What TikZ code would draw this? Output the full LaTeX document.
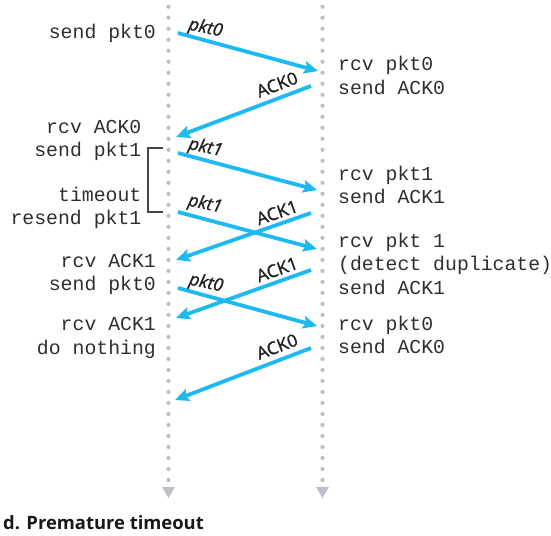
\documentclass[tikz,border=0pt]{standalone}
\usepackage{fontspec}
\newfontfamily\monof{Liberation Mono}
\newfontfamily\labf[FakeBold=1.2]{Open Sans}
\newfontfamily\capf{Open Sans}
\usetikzlibrary{arrows.meta}
\definecolor{pktblue}{RGB}{28,186,240}
\definecolor{dotgray}{RGB}{190,190,196}
\definecolor{brgray}{RGB}{70,70,70}
\definecolor{txtgray}{RGB}{50,45,45}
\tikzset{
  msg/.style={draw=pktblue, line width=3.8pt, -{Stealth[length=14pt,width=12.5pt,inset=2.5pt]}},
  lab/.style={font=\labf\fontsize{17.5}{20}\selectfont, inner sep=0pt, text=black!88},
  plab/.style={lab, font=\labf\itshape\fontsize{17.5}{20}\selectfont},
  evl/.style={font=\monof\fontsize{19.8}{23}\selectfont, inner sep=0pt, anchor=base east, text=txtgray},
  evr/.style={font=\monof\fontsize{19.8}{23}\selectfont, inner sep=0pt, anchor=base west, text=txtgray},
  lifedot/.style={fill=dotgray},
  bracketline/.style={draw=brgray, line width=1.1pt},
}
\begin{document}
\begin{tikzpicture}[x=1pt,y=-1pt]
\useasboundingbox (0,0) rectangle (551,535);
% lifelines
\foreach \k in {0,...,43} {
  \fill[lifedot] (168.5,6.7+11.007*\k) circle (2.1pt);
  \fill[lifedot] (322.5,6.7+11.007*\k) circle (2.1pt);
}
\fill[lifedot] (162,487) -- (175,487) -- (168.5,498) -- cycle;
\fill[lifedot] (316,487) -- (329,487) -- (322.5,498) -- cycle;
% endpoints
\coordinate (s1) at (178,33);  \coordinate (e1) at (318,71);
\coordinate (s2) at (311,86);  \coordinate (e2) at (176,137);
\coordinate (s3) at (178,153); \coordinate (e3) at (317,190);
\coordinate (s4) at (311,213); \coordinate (e4) at (176,260);
\coordinate (s5) at (178,212); \coordinate (e5) at (317,249);
\coordinate (s6) at (311,270); \coordinate (e6) at (176,318);
\coordinate (s7) at (178,288); \coordinate (e7) at (317,326);
\coordinate (s8) at (311,348); \coordinate (e8) at (175,400);
% messages
\draw[msg] (s1) -- (e1);
\draw[msg] (s2) -- (e2);
\draw[msg] (s3) -- (e3);
\draw[msg] (s4) -- (e4);
\draw[msg] (s5) -- (e5);
\draw[msg] (s6) -- (e6);
\draw[msg] (s7) -- (e7);
\draw[msg] (s8) -- (e8);
% message labels
\node[plab, rotate=-12] (l1) at (205.5,28.5) {pkt0};
\node[lab, rotate=20.7] (l2) at (277,84.5) {ACK0};
\node[plab, rotate=-12] (l3) at (205.5,148) {pkt1};
\node[lab, rotate=19.2] (l4) at (277,212.5) {ACK1};
\node[plab, rotate=-12] (l5) at (205,204.5) {pkt1};
\node[lab, rotate=19.6] (l6) at (277,269.5) {ACK1};
\node[plab, rotate=-12] (l7) at (206,283.5) {pkt0};
\node[lab, rotate=20.9] (l8) at (277,346.5) {ACK0};
% timeout bracket
\coordinate (bt) at (163,148); \coordinate (bb) at (163,212);
\draw[bracketline] (bt) -- (148,148) -- (148,212) -- (bb);
% sender events
\node[evl] (a1) at (156,38.3) {send pkt0};
\node[evl] (a2) at (141.5,133.3) {rcv ACK0};
\node[evl] (a3) at (141.5,156.7) {send pkt1};
\node[evl] (a4) at (141.5,201.7) {timeout};
\node[evl] (a5) at (141.5,224.3) {resend pkt1};
\node[evl] (a6) at (156,267.7) {rcv ACK1};
\node[evl] (a7) at (156,290.7) {send pkt0};
\node[evl] (a8) at (156,330) {rcv ACK1};
\node[evl] (a9) at (156,354.3) {do nothing};
% receiver events
\node[evr] (b1) at (338,70.7) {rcv pkt0};
\node[evr] (b2) at (338,94) {send ACK0};
\node[evr] (b3) at (338,180) {rcv pkt1};
\node[evr] (b4) at (338,203.3) {send ACK1};
\node[evr] (b5) at (338,247.3) {rcv pkt 1};
\node[evr] (b6) at (338,270) {(detect duplicate)};
\node[evr] (b7) at (338,294) {send ACK1};
\node[evr] (b8) at (338,330.7) {rcv pkt0};
\node[evr] (b9) at (338,353.3) {send ACK0};
% caption
\node[font=\capf\bfseries\fontsize{18.4}{22}\selectfont, inner sep=0pt, anchor=base west, text=black!90] (cap) at (3,529) {d. Premature timeout};
\end{tikzpicture}
\end{document}
